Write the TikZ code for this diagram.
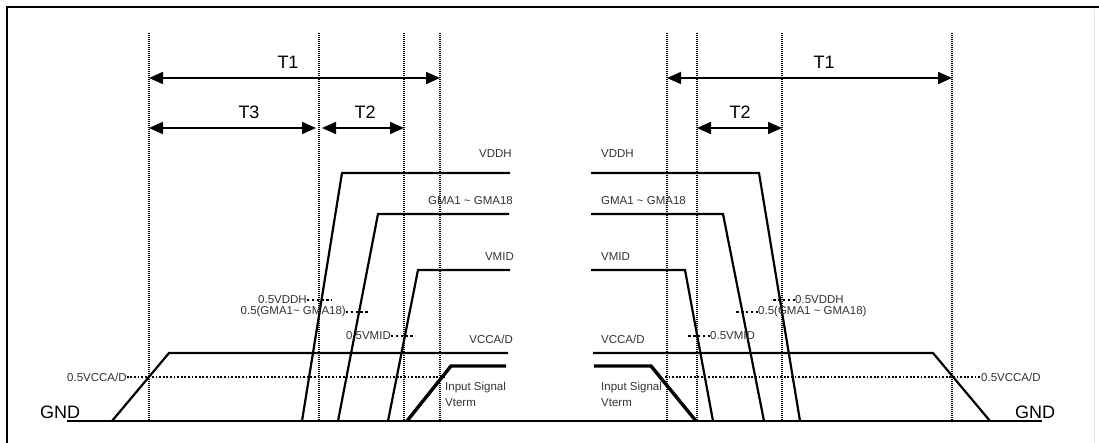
\documentclass[tikz,border=0pt]{standalone}
\usepackage{fontspec}
\setmainfont{Liberation Sans}
\usetikzlibrary{arrows.meta}

\begin{document}
\begin{tikzpicture}[x=1pt,y=-1pt,
  sig/.style={line width=2.2pt, line join=miter},
  insig/.style={line width=3.4pt, line join=miter},
  vdot/.style={line width=2pt, dash pattern=on 1pt off 1pt},
  hdot/.style={line width=2pt, dash pattern=on 1.8pt off 1.8pt},
  ldot/.style={line width=2.6pt, dash pattern=on 2.4pt off 2.4pt},
  dimarrow/.style={line width=1.8pt,{Triangle[length=14pt,width=12pt]}-{Triangle[length=14pt,width=12pt]}},
  lab/.style={inner sep=0pt, text=black!80, font=\fontsize{11.5}{13}\selectfont},
  tlab/.style={inner sep=0pt, font=\fontsize{18}{20}\selectfont}]
\useasboundingbox (0,0) rectangle (1099,443);

% Frame
\draw[line width=2.5pt] (7,443) -- (7,7) -- (1099,7);
\draw[black!10, line width=1pt] (1094,9) -- (1094,443);

% Ground
\coordinate (g0) at (67,421);
\coordinate (g1) at (1042,421);
\draw[sig] (g0) -- (g1);
\node[tlab, anchor=west] (gndl) at (40,412) {GND};
\node[tlab, anchor=west] (gndr) at (1015,412) {GND};

% Timing markers (power on)
\foreach \x [count=\i] in {149,319,404,440}
  \draw[vdot] (\x,33) coordinate (la\i) -- (\x,421) coordinate (lb\i);
% Timing markers (power off)
\foreach \x [count=\i] in {667,697,782,952}
  \draw[vdot] (\x,33) coordinate (ra\i) -- (\x,421) coordinate (rb\i);

% Intervals
\draw[dimarrow] (149,78) coordinate (t1a) -- (440,78) coordinate (t1b);
\node[tlab] (t1l) at (288,62) {T1};
\draw[dimarrow] (149,128) coordinate (t3a) -- (316,128) coordinate (t3b);
\node[tlab] (t3l) at (249,112) {T3};
\draw[dimarrow] (322,128) coordinate (t2a) -- (404,128) coordinate (t2b);
\node[tlab] (t2l) at (365,112) {T2};
\draw[dimarrow] (667,78) coordinate (r1a) -- (952,78) coordinate (r1b);
\node[tlab] (r1l) at (824,62) {T1};
\draw[dimarrow] (697,128) coordinate (r2a) -- (782,128) coordinate (r2b);
\node[tlab] (r2l) at (740,112) {T2};

% Power on sequence
\draw[sig] (112,421) -- (169,353) -- (508,353);
\draw[sig] (302,421) -- (342,173) -- (510,173);
\draw[sig] (338,421) -- (378,214) -- (509,214);
\draw[sig] (388,421) -- (418,270) -- (510,270);
\draw[insig] (407,421) -- (451,366) -- (506,366);
\node[lab, anchor=east] (vddhl) at (512,154) {VDDH};
\node[lab, anchor=east] (gmal) at (513,201) {GMA1 \textasciitilde\ GMA18};
\node[lab, anchor=east] (vmidl) at (514,257) {VMID};
\node[lab, anchor=east] (vccal) at (513,339) {VCCA/D};
\node[lab, anchor=west] (inl) at (445,388) {Input Signal};
\node[lab, anchor=west] (vtl) at (445,403) {Vterm};

% Half levels (power on)
\node[lab, anchor=west] (hvccl) at (67,377) {0.5VCCA/D};
\draw[hdot] (hvccl.east) -- (444,377);
\node[lab, anchor=east] (hvddhl) at (307,300) {0.5VDDH};
\draw[ldot] (hvddhl.east) -- ++(25,0);
\node[lab, anchor=east] (hgmal) at (346,312) {0.5(GMA1\textasciitilde\ GMA18)};
\draw[ldot] (hgmal.east) -- ++(24,0);
\node[lab, anchor=east] (hvmidl) at (391,336) {0.5VMID};
\draw[ldot] (hvmidl.east) -- ++(24,0);

% Power off sequence
\draw[sig] (593,353) -- (933,353) -- (990,421);
\draw[sig] (591,173) -- (759,173) -- (800,421);
\draw[sig] (591,214) -- (723,214) -- (764,421);
\draw[sig] (591,270) -- (685,270) -- (713,421);
\draw[insig] (594,366) -- (651,366) -- (696,421);
\node[lab, anchor=west] (vddhr) at (601,154) {VDDH};
\node[lab, anchor=west] (gmar) at (601,201) {GMA1 \textasciitilde\ GMA18};
\node[lab, anchor=west] (vmidr) at (601,257) {VMID};
\node[lab, anchor=west] (vccar) at (601,339) {VCCA/D};
\node[lab, anchor=west] (inr) at (601,388) {Input Signal};
\node[lab, anchor=west] (vtr) at (601,403) {Vterm};

% Half levels (power off)
\node[lab, anchor=west] (hvccr) at (981,377) {0.5VCCA/D};
\draw[hdot] (665,377) -- (hvccr.west);
\node[lab, anchor=west] (hvddhr) at (795,300) {0.5VDDH};
\draw[ldot] (hvddhr.west) -- ++(-24,0);
\node[lab, anchor=west] (hgmar) at (758,312) {0.5(GMA1 \textasciitilde\ GMA18)};
\draw[ldot] (hgmar.west) -- ++(-24,0);
\node[lab, anchor=west] (hvmidr) at (710,336) {0.5VMID};
\draw[ldot] (hvmidr.west) -- ++(-22,0);
\end{tikzpicture}
\end{document}
